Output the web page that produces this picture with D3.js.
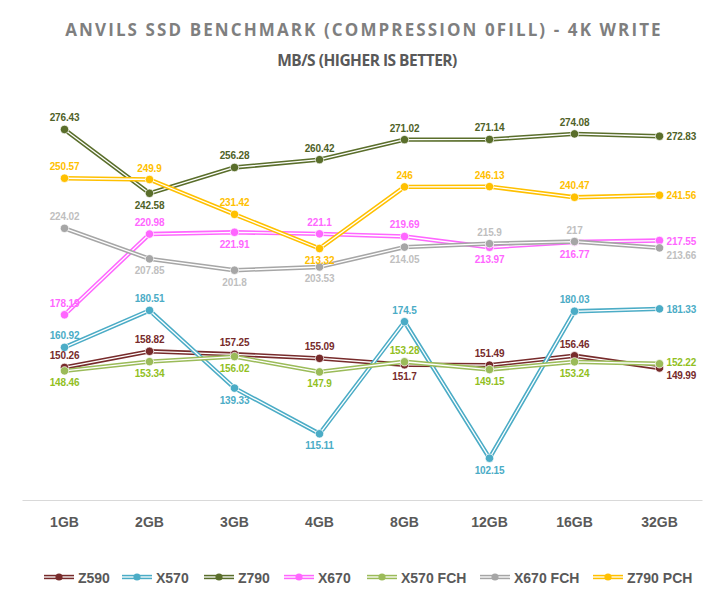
<!DOCTYPE html>
<html><head><meta charset="utf-8">
<script src="https://cdn.jsdelivr.net/npm/d3@7"></script>
<style>body{margin:0;background:#fff}svg{display:block}</style>
</head><body>
<svg id="c" width="724" height="612"></svg>
<script>
const categories = ["1GB","2GB","3GB","4GB","8GB","12GB","16GB","32GB"];
const seriesNames = ["Z590","X570","Z790","X670","X570 FCH","X670 FCH","Z790 PCH"];
const z590 = [150.26,158.82,157.25,155.09,151.7,151.49,156.46,149.99];
const x570 = [160.92,180.51,139.33,115.11,174.5,102.15,180.03,181.33];
const z790 = [276.43,242.58,256.28,260.42,271.02,271.14,274.08,272.83];
const x670 = [178.19,220.98,221.91,221.1,219.69,213.97,216.77,217.55];
const x570fch = [148.46,153.34,156.02,147.9,153.28,149.15,153.24,152.22];
const x670fch = [224.02,207.85,201.8,203.53,214.05,215.9,217,213.66];
const z790pch = [250.57,249.9,231.42,213.32,246,246.13,240.47,241.56];
// label placement: a = above, b = below, r = right, ra = right slightly higher, rb = right slightly lower
const pos = {
  "Z590":    ["a","a","a","a","b","a","a","rb"],
  "X570":    ["a","a","b","b","a","b","a","r"],
  "Z790":    ["a","b","a","a","a","a","a","r"],
  "X670":    ["a","a","b","a","a","b","b","r"],
  "X570 FCH":["b","b","b","b","a","b","b","ra"],
  "X670 FCH":["a","b","b","b","b","a","a","rb"],
  "Z790 PCH":["a","a","a","b","a","a","a","r"]
};
const values = [z590,x570,z790,x670,x570fch,x670fch,z790pch];
const lineColors = ["#772B2B","#4BACC6","#5A6E2B","#FF66FF","#9BBB59","#A6A6A6","#FFC000"];
const labelColors = ["#772B2B","#4BACC6","#4F6228","#FF66FF","#92C01F","#BFBFBF","#FFC000"];

const svg = d3.select("#c");
const x = d3.scaleBand().domain(categories).range([22,702]);
const y = d3.scaleLinear().domain([80,300]).range([500,85]);
const cx = d => x(d) + x.bandwidth()/2;
const dy = {a:-8, b:15.5, r:4, ra:2, rb:11};

svg.append("text").attr("x",364).attr("y",36).attr("text-anchor","middle")
  .attr("font-family","Open Sans").attr("font-weight","bold").attr("font-size",17)
  .attr("letter-spacing",2.1).attr("fill","#7F7F7F")
  .text("ANVILS SSD BENCHMARK (COMPRESSION 0FILL) - 4K WRITE");
svg.append("text").attr("x",367).attr("y",66).attr("text-anchor","middle")
  .attr("font-family","Open Sans").attr("font-weight","bold").attr("font-size",15.5)
  .attr("letter-spacing",-0.5).attr("fill","#595959")
  .text("MB/S (HIGHER IS BETTER)");

// axis
const ax = svg.append("g").attr("transform","translate(0,500)")
  .call(d3.axisBottom(x).tickSize(0).tickPadding(0));
ax.select(".domain").attr("stroke","#D9D9D9").attr("stroke-width",1);
ax.selectAll("text").attr("font-family","Liberation Sans, Arial").attr("font-weight","bold")
  .attr("font-size",14).attr("fill","#595959").attr("dy",0).attr("y",27);

const line = d3.line().x((d,i)=>cx(categories[i])).y(d=>y(d));

values.forEach((vals,si)=>{
  const g = svg.append("g");
  g.append("path").attr("d",line(vals)).attr("fill","none")
    .attr("stroke",lineColors[si]).attr("stroke-width",4.4).attr("stroke-linejoin","round");
  g.append("path").attr("d",line(vals)).attr("fill","none")
    .attr("stroke","#fff").attr("stroke-width",1.3).attr("stroke-linejoin","round");
});
values.forEach((vals,si)=>{
  svg.append("g").selectAll("circle").data(vals).join("circle")
    .attr("cx",(d,i)=>cx(categories[i])).attr("cy",d=>y(d)).attr("r",4.2)
    .attr("fill",lineColors[si]).attr("stroke","#fff").attr("stroke-width",0.7);
});
values.forEach((vals,si)=>{
  const p = pos[seriesNames[si]];
  svg.append("g").selectAll("text").data(vals).join("text")
    .attr("x",(d,i)=> p[i][0]==="r" ? cx(categories[i])+7 : cx(categories[i]))
    .attr("y",(d,i)=> y(d) + dy[p[i]])
    .attr("text-anchor",(d,i)=> p[i][0]==="r" ? "start" : "middle")
    .attr("font-family","Liberation Sans, Arial").attr("font-weight","bold").attr("font-size",10)
    .attr("letter-spacing",-0.15)
    .attr("fill",labelColors[si]).text(d=>d);
});

// legend
const legX = [44,122,204,284,367,480,593];
seriesNames.forEach((n,si)=>{
  const g = svg.append("g").attr("transform",`translate(${legX[si]},577)`);
  g.append("line").attr("x1",0).attr("x2",30).attr("stroke",lineColors[si]).attr("stroke-width",4.4);
  g.append("line").attr("x1",0).attr("x2",30).attr("stroke","#fff").attr("stroke-width",1.3);
  g.append("circle").attr("cx",15).attr("r",3.6).attr("fill",lineColors[si]);
  g.append("text").attr("x",34).attr("y",5.5).attr("font-family","Liberation Sans, Arial")
    .attr("font-weight","bold").attr("font-size",14).attr("fill","#595959").text(n);
});
</script>
</body></html>
